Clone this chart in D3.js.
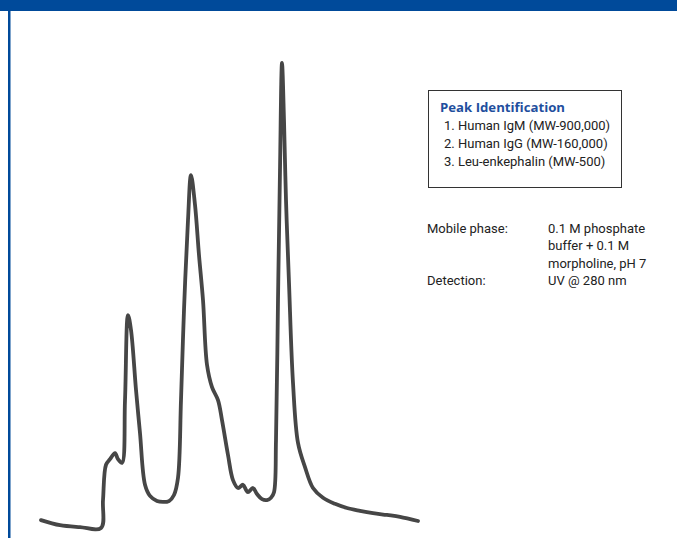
<!DOCTYPE html>
<html><head><meta charset="utf-8">
<script src="https://cdn.jsdelivr.net/npm/d3@7"></script>
<style>html,body{margin:0;padding:0;background:#fff;}svg{display:block;}</style>
</head><body>
<script>
// Retention time (min) and relative detector response (%)
const time = [0.05,1.0,2.0,3.05,3.15,3.3,3.5,3.75,3.9,4.1,4.25,4.4,4.55,4.8,5.0,5.25,5.5,5.85,6.15,6.45,6.7,6.9,7.05,7.2,7.4,7.55,7.75,7.95,8.15,8.35,8.6,8.9,9.1,9.4,9.65,9.9,10.15,10.3,10.4,10.65,10.85,11.1,11.35,11.55,11.7,11.8,11.9,12.0,12.1,12.2,12.3,12.45,12.65,12.9,13.25,13.65,14.15,14.75,15.35,16.0,16.65,17.35,18.0,18.9];
const signal = [1.7,0.6,0.2,0,6.0,13.6,14.8,16.1,14.8,14.0,27.5,45.8,42.6,29.7,20.4,9.3,6.9,5.8,5.6,5.8,7.1,10.8,27.5,46.9,66.2,75.9,69.5,58.7,49.0,35.1,30.3,27.5,23.2,15.7,10.3,8.6,9.3,8.2,7.7,8.6,7.3,6.2,6.0,6.5,7.7,18.9,49.0,77.0,100,87.7,70.5,52.7,31.2,18.3,13.1,8.6,6.5,5.2,4.3,3.7,3.2,2.8,2.4,1.5];

const legendTitle = "Peak Identification";
const peakNames = ["1. Human IgM (MW-900,000)", "2. Human IgG (MW-160,000)", "3. Leu-enkephalin (MW-500)"];
const condLabels = ["Mobile phase:", "", "", "Detection:"];
const condValues = ["0.1 M phosphate", "buffer + 0.1 M", "morpholine, pH 7", "UV @ 280 nm"];

const W = 677, H = 538;
const blue = "#004a9a";
const svg = d3.select("body").append("svg").attr("width", W).attr("height", H);
svg.append("rect").attr("width", W).attr("height", H).attr("fill", "#fff");

// header bar and left rule
svg.append("rect").attr("x", 0).attr("y", 0).attr("width", W).attr("height", 11).attr("fill", blue);
svg.append("rect").attr("x", 8).attr("y", 0).attr("width", 2.5).attr("height", H).attr("fill", blue);

const x = d3.scaleLinear().domain([0, 19]).range([40, 420]);
const y = d3.scaleLinear().domain([0, 100]).range([528, 63]);

const data = time.map((t, i) => ({t, s: signal[i]}));
const line = d3.line().x(d => x(d.t)).y(d => y(d.s)).curve(d3.curveCatmullRom.alpha(0.5));
svg.append("path").datum(data).attr("d", line)
  .attr("fill", "none").attr("stroke", "#464646").attr("stroke-width", 3.8)
  .attr("stroke-linejoin", "round").attr("stroke-linecap", "round");

// legend box
const font = "Roboto, 'Open Sans', sans-serif";
svg.append("rect").attr("x", 428.5).attr("y", 90.5).attr("width", 193).attr("height", 97)
  .attr("fill", "#fff").attr("stroke", "#333").attr("stroke-width", 1);
svg.append("text").attr("x", 440).attr("y", 112).text(legendTitle)
  .attr("font-family", "'Open Sans', sans-serif").attr("font-size", 13.2).attr("font-weight", 700).attr("fill", "#1f4f9e");
svg.selectAll("text.peak").data(peakNames).join("text").attr("class", "peak")
  .attr("x", 444).attr("y", (d, i) => 130 + i * 18).text(d => d)
  .attr("font-family", font).attr("font-size", 13).attr("fill", "#222");

// conditions
svg.selectAll("text.cl").data(condLabels).join("text").attr("class", "cl")
  .attr("x", 427).attr("y", (d, i) => 233 + i * 17.3).text(d => d)
  .attr("font-family", font).attr("font-size", 13).attr("fill", "#222");
svg.selectAll("text.cv").data(condValues).join("text").attr("class", "cv")
  .attr("x", 548).attr("y", (d, i) => 233 + i * 17.3).text(d => d)
  .attr("font-family", font).attr("font-size", 13).attr("fill", "#222");
</script>
</body></html>
